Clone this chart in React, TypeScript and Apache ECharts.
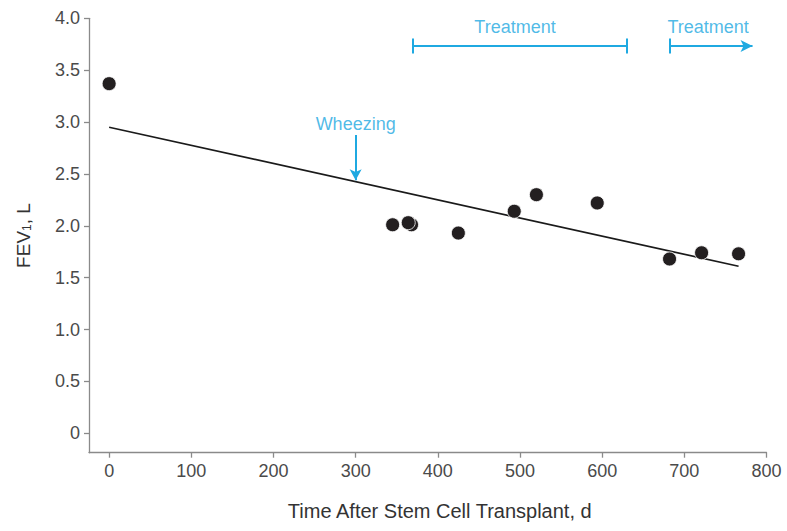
import React, { useEffect, useRef } from 'react';
import * as echarts from 'echarts';

// Measured FEV1 values (days after transplant, litres)
const dayValues = [0, 345, 368, 364, 425, 493, 520, 594, 682, 721, 766];
const fevValues = [3.37, 2.01, 2.01, 2.03, 1.93, 2.14, 2.3, 2.22, 1.68, 1.74, 1.73];

// Fitted regression line end points
const trendDays = [0, 766];
const trendFev = [2.95, 1.61];

// Axis ticks
const xTickValues = [0, 100, 200, 300, 400, 500, 600, 700, 800];
const yTickValues = [0, 0.5, 1, 1.5, 2, 2.5, 3, 3.5, 4];

// Annotations (data coordinates)
const annotationTexts = ['Wheezing', 'Treatment', 'Treatment'];
const annotationDays = [300, 494, 729];
const annotationFev = [2.98, 3.92, 3.92];

const wheezeDay = 300;
const wheezeFevFrom = 2.875;
const wheezeFevTo = 2.44;

const treatmentStartDays = [369, 682];
const treatmentEndDays = [630, 783];
const treatmentFev = 3.733;
const treatmentCapHalf = 0.072;
const treatmentOpenEnded = [false, true];

const BLUE = '#1fa9e1';
const FONT = 'Liberation Sans, Arial, Helvetica, sans-serif';

export default function App() {
  const ref = useRef<HTMLDivElement>(null);

  useEffect(() => {
    if (!ref.current) return;
    const chart = echarts.init(ref.current, undefined, { renderer: 'svg' });

    const markLines: any[] = [];
    markLines.push([
      { coord: [wheezeDay, wheezeFevFrom], symbol: 'none' },
      { coord: [wheezeDay, wheezeFevTo], symbol: 'arrow', symbolSize: [9, 11] },
    ]);
    treatmentStartDays.forEach((s, i) => {
      const e = treatmentEndDays[i];
      markLines.push([
        { coord: [s, treatmentFev], symbol: 'none' },
        {
          coord: [e, treatmentFev],
          symbol: treatmentOpenEnded[i] ? 'arrow' : 'none',
          symbolSize: [9, 12],
        },
      ]);
      markLines.push([
        { coord: [s, treatmentFev - treatmentCapHalf], symbol: 'none' },
        { coord: [s, treatmentFev + treatmentCapHalf], symbol: 'none' },
      ]);
      if (!treatmentOpenEnded[i]) {
        markLines.push([
          { coord: [e, treatmentFev - treatmentCapHalf], symbol: 'none' },
          { coord: [e, treatmentFev + treatmentCapHalf], symbol: 'none' },
        ]);
      }
    });

    const option: any = {
      animation: false,
      backgroundColor: '#ffffff',
      grid: { left: 89, right: 20.5, top: 18.3, bottom: 78.3, containLabel: false },
      xAxis: {
        type: 'value',
        min: -24.5,
        max: 800,
        name: 'Time After Stem Cell Transplant, d',
        nameLocation: 'middle',
        nameGap: 48,
        nameTextStyle: {
          fontFamily: FONT,
          fontSize: 20,
          color: '#333333',
          verticalAlign: 'top',
          padding: [0, 0, 0, 24],
        },
        axisLine: { onZero: false, lineStyle: { color: '#8a8a8a', width: 1.3 } },
        axisTick: {
          show: true,
          length: 5,
          customValues: xTickValues,
          lineStyle: { color: '#8a8a8a', width: 1.3 },
        },
        axisLabel: {
          customValues: xTickValues,
          fontFamily: FONT,
          fontSize: 18,
          color: '#4a4a4a',
          margin: 9,
        },
        splitLine: { show: false },
      },
      yAxis: {
        type: 'value',
        min: -0.187,
        max: 4,
        name: '{a|FEV}{s|1}{a|, L}',
        nameLocation: 'middle',
        nameGap: 56,
        nameTextStyle: {
          fontFamily: FONT,
          color: '#333333',
          rich: {
            a: { fontFamily: FONT, fontSize: 19, color: '#333333', lineHeight: 24, verticalAlign: 'bottom' },
            s: { fontFamily: FONT, fontSize: 12, color: '#333333', lineHeight: 14, verticalAlign: 'bottom' },
          },
        },
        axisLine: { onZero: false, lineStyle: { color: '#8a8a8a', width: 1.3 } },
        axisTick: {
          show: true,
          length: 5,
          customValues: yTickValues,
          lineStyle: { color: '#8a8a8a', width: 1.3 },
        },
        axisLabel: {
          customValues: yTickValues,
          fontFamily: FONT,
          fontSize: 18,
          color: '#4a4a4a',
          margin: 9,
          formatter: (v: number) => (v === 0 ? '0' : v.toFixed(1)),
        },
        splitLine: { show: false },
      },
      series: [
        {
          name: 'Trend',
          type: 'line',
          data: trendDays.map((d, i) => [d, trendFev[i]]),
          showSymbol: false,
          lineStyle: { color: '#1a1a1a', width: 1.7 },
          silent: true,
          z: 2,
          markLine: {
            silent: true,
            symbol: 'none',
            label: { show: false },
            emphasis: { disabled: true },
            lineStyle: { type: 'solid', color: BLUE, width: 2 },
            data: markLines,
          },
        },
        {
          name: 'FEV1',
          type: 'scatter',
          data: dayValues.map((d, i) => [d, fevValues[i]]),
          symbolSize: 14,
          itemStyle: { color: '#231f20', borderColor: '#ffffff', borderWidth: 0.8, opacity: 1 },
          silent: true,
          z: 3,
        },
        {
          name: 'Annotations',
          type: 'scatter',
          data: annotationTexts.map((t, i) => ({ name: t, value: [annotationDays[i], annotationFev[i]] })),
          symbolSize: 1,
          itemStyle: { color: 'rgba(0,0,0,0)' },
          silent: true,
          label: {
            show: true,
            position: 'inside',
            formatter: '{b}',
            fontFamily: FONT,
            fontSize: 18,
            color: BLUE,
          },
          z: 4,
        },
      ],
    };

    chart.setOption(option);
    return () => chart.dispose();
  }, []);

  return (
    <div
      ref={ref}
      style={{ position: 'fixed', left: 0, top: 0, width: 787, height: 531, background: '#fff' }}
    />
  );
}
